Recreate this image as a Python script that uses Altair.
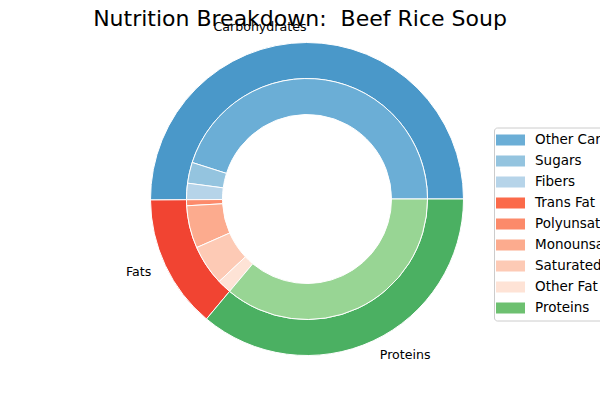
import math
import altair as alt
import pandas as pd

chart_title = ["Nutrition Breakdown:\u00a0 Beef Rice Soup"]

outer_labels = ["Carbohydrates", "Fats", "Proteins"]
outer_values = [50.1, 13.8, 36.1]
outer_colors = ["#4a98c9", "#f14432", "#4bb062"]

inner_labels = ["Other Carbs", "Sugars", "Fibers", "Trans Fat",
                "Polyunsaturated Fat", "Monounsaturated Fat", "Saturated Fat",
                "Other Fat", "Proteins"]
inner_values = [45.1, 2.8, 2.2, 0.0, 0.8, 5.7, 5.4, 1.9, 36.1]
inner_colors = ["#6baed6", "#94c4df", "#b6d4e9", "#fb6a4a", "#fc8a6a",
                "#fcab8e", "#fdcab5", "#fee3d6", "#98d594"]
legend_colors = ["#6baed6", "#94c4df", "#b6d4e9", "#fb6a4a", "#fc8a6a",
                 "#fcab8e", "#fdcab5", "#fee3d6", "#6dc070"]

outer_df = pd.DataFrame({"name": outer_labels, "value": outer_values,
                         "color": outer_colors, "order": list(range(len(outer_labels)))})
inner_df = pd.DataFrame({"name": inner_labels, "value": inner_values,
                         "color": inner_colors, "order": list(range(len(inner_labels)))})
title_df = pd.DataFrame({"title": chart_title})

total = sum(outer_values)
CX, CY = 307, 199
R_OUT, R_MID, R_IN = 156.5, 120.5, 84.5
FONT = "DejaVu Sans"

theta_scale = alt.Scale(domain=[0, total], range=[math.pi / 2, math.pi / 2 - 2 * math.pi],
                        nice=False, zero=False)

pos = dict(x=alt.value(CX), y=alt.value(CY))

outer = alt.Chart(outer_df).mark_arc(
    radius=R_OUT, radius2=R_MID, stroke="white", strokeWidth=1
).encode(
    theta=alt.Theta("value:Q", stack=True, scale=theta_scale),
    order=alt.Order("order:Q"),
    fill=alt.Fill("color:N", scale=None),
    **pos,
)

inner = alt.Chart(inner_df).mark_arc(
    radius=R_MID, radius2=R_IN, stroke="white", strokeWidth=1
).encode(
    theta=alt.Theta("value:Q", stack=True, scale=theta_scale),
    order=alt.Order("order:Q"),
    fill=alt.Fill("color:N", scale=None),
    **pos,
)

legend_layer = alt.Chart(inner_df).mark_arc(
    radius=R_MID, radius2=R_IN, opacity=0
).encode(
    theta=alt.Theta("value:Q", stack=True, scale=theta_scale),
    order=alt.Order("order:Q"),
    color=alt.Color(
        "name:N",
        sort=inner_labels,
        scale=alt.Scale(domain=inner_labels, range=legend_colors),
        legend=alt.Legend(
            title=None, orient="none", legendX=494, legendY=127.5,
            direction="vertical",
            symbolType="M-1,-0.38H1V0.38H-1Z", symbolSize=841,
            symbolStrokeWidth=0, symbolOpacity=1,
            labelFont=FONT, labelFontSize=13.5, labelColor="black",
            labelLimit=400, labelOffset=10,
            padding=2, rowPadding=0, clipHeight=21,
            strokeColor="#cccccc", fillColor="white", cornerRadius=3,
        ),
    ),
    **pos,
)

label_base = alt.Chart(outer_df).transform_joinaggregate(
    total="sum(value)"
).transform_window(
    cum="sum(value)", sort=[alt.SortField("order")], frame=[None, 0]
).transform_calculate(
    mid="datum.cum - datum.value / 2",
    ang="2 * PI * (datum.cum - datum.value / 2) / datum.total",
)

label_enc = dict(
    theta=alt.Theta("mid:Q", stack=None, scale=theta_scale),
    text=alt.Text("name:N"),
    **pos,
)

labels_right = label_base.transform_filter("cos(datum.ang) <= 0").mark_text(
    radius=R_OUT * 1.1, align="right", baseline="middle",
    font=FONT, fontSize=12.6, color="black"
).encode(**label_enc)

labels_left = label_base.transform_filter("cos(datum.ang) > 0").mark_text(
    radius=R_OUT * 1.1, align="left", baseline="middle",
    font=FONT, fontSize=12.6, color="black"
).encode(**label_enc)

title_layer = alt.Chart(title_df).mark_text(
    font=FONT, fontSize=22, color="black", align="center", baseline="alphabetic"
).encode(text=alt.Text("title:N"), x=alt.value(300), y=alt.value(26))

chart = alt.layer(outer, inner, legend_layer, labels_right, labels_left, title_layer).properties(
    width=600, height=400,
    autosize=alt.AutoSizeParams(type="none"),
    padding={"left": 0, "top": 0, "right": 0, "bottom": 0},
    background="white",
).configure_view(stroke=None, strokeWidth=0)

chart.save("out.html", embed_options={"renderer": "svg", "actions": False})
